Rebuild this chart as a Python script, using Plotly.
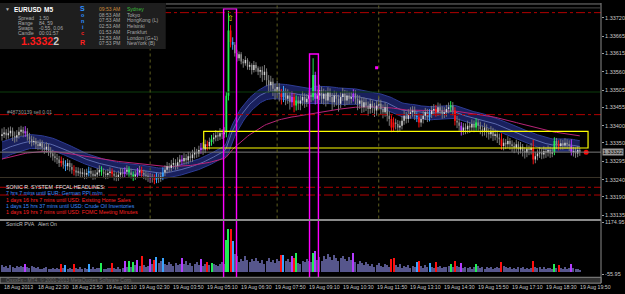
import plotly.graph_objects as go

# ---------------- DATA (prices in points above 1.33000, i.e. 322 -> 1.33322) ----------------
open_first = 370
close_pts = [375, 380, 372, 378, 385, 370, 365, 372, 382, 388, 378, 384, 368,
             360, 352, 355, 345, 340, 348, 335, 330, 338, 325,
             318, 310, 305, 300, 290, 296, 285, 280, 290, 278, 270,
             268, 262, 265, 258, 262, 255, 260, 266, 258, 252, 256, 262, 270, 264, 258, 254, 260, 265, 258, 252,
             248, 255, 262, 258, 264, 270, 262, 255, 250, 256, 262, 268, 260, 255, 252, 248, 245,
             245, 240, 248, 244, 250, 262,
             270, 280, 275, 285, 290, 282, 292, 300, 295, 305,
             298, 310, 305, 315, 322, 318, 328,
             335, 330, 345, 340, 352, 360,
             365, 372, 368, 378, 375, 380,
             489, 682, 648, 640,
             615, 600, 612, 590, 585, 595, 575, 580, 565, 580, 570, 560,
             565, 550, 560, 535, 520, 530, 510, 500, 515, 495, 485, 500, 480, 490, 470, 485, 460, 475, 465,
             475, 485, 470, 480, 490, 485,
             550, 480,
             490, 505, 480, 495, 475, 500, 485, 470, 490, 480, 465, 485, 495, 475, 490, 480, 485,
             495,
             480, 465, 475, 455, 470, 460, 450, 465, 455, 445, 460,
             465, 450, 440, 455, 430, 420, 395, 410, 405, 395, 400, 415, 430, 420, 435, 440, 445, 430, 425,
             410,
             420, 430, 440, 425, 435, 445, 450, 440, 455, 445, 435, 440, 450, 455, 460, 445,
             415,
             410, 400, 385, 395, 390, 400, 395, 405,
             395, 410,
             400, 390, 385, 395, 380, 375, 385, 370, 375, 365,
             360, 340, 350, 345, 355, 345,
             340, 335, 345, 330, 338, 325, 320, 332, 328, 335,
             300,
             310, 318, 322, 315, 325, 320, 328, 318, 322,
             355,
             345, 340, 348, 342, 350, 345, 340,
             322,
             325, 318, 328, 322]

high_pts = [392, 396, 390, 395, 398, 395, 383, 387, 396, 400, 397, 399, 393, 379, 371, 368, 364, 357, 360, 357,
            347, 351, 346, 337, 329, 322, 317, 311, 309, 304, 298, 302, 298, 289, 283, 278, 277, 274, 275, 271,
            273, 279, 276, 268, 269, 275, 283, 280, 274, 269, 272, 277, 274, 268, 263, 267, 275, 272, 277, 283,
            280, 273, 265, 268, 275, 281, 279, 270, 266, 262, 261, 258, 256, 261, 258, 263, 277, 283, 293, 290,
            299, 305, 301, 307, 314, 313, 319, 316, 323, 320, 329, 337, 332, 341, 349, 351, 359, 356, 365, 373,
            379, 387, 384, 393, 390, 396, 500, 740, 698, 662, 648, 625, 620, 618, 598, 606, 600, 590, 585, 592,
            588, 576, 575, 576, 580, 570, 550, 548, 541, 525, 533, 526, 509, 518, 511, 508, 501, 503, 496, 490,
            487, 490, 502, 496, 494, 504, 501, 600, 560, 507, 522, 516, 510, 505, 514, 511, 497, 504, 501, 492,
            500, 512, 506, 504, 501, 500, 508, 505, 492, 490, 485, 484, 481, 472, 480, 475, 468, 474, 486, 477,
            463, 469, 464, 443, 431, 425, 421, 417, 415, 429, 445, 441, 449, 455, 458, 457, 440, 437, 435, 444,
            453, 450, 449, 459, 464, 462, 469, 466, 457, 455, 462, 469, 473, 470, 455, 429, 421, 411, 408, 407,
            415, 411, 419, 416, 422, 420, 412, 401, 409, 404, 393, 399, 394, 389, 386, 377, 378, 363, 361, 369,
            364, 357, 351, 359, 354, 352, 346, 337, 345, 342, 349, 358, 323, 330, 337, 332, 339, 336, 342, 338,
            335, 366, 364, 357, 360, 358, 363, 360, 357, 360, 338, 336, 340, 335]

low_pts = [356, 364, 359, 362, 368, 355, 350, 353, 362, 369, 366, 367, 356, 346, 339, 342, 331, 328, 329, 324,
           317, 320, 311, 306, 297, 292, 287, 278, 279, 273, 266, 269, 265, 258, 253, 250, 251, 246, 247, 242,
           243, 250, 245, 240, 241, 246, 251, 252, 245, 242, 243, 249, 246, 238, 236, 237, 244, 245, 248, 253,
           249, 244, 237, 240, 245, 252, 247, 242, 239, 234, 231, 232, 227, 230, 231, 234, 239, 251, 259, 262,
           265, 273, 270, 271, 281, 284, 285, 286, 287, 292, 293, 303, 305, 308, 317, 314, 319, 327, 330, 341,
           347, 354, 355, 358, 361, 364, 366, 475, 632, 625, 605, 590, 592, 582, 572, 578, 566, 565, 552, 558,
           560, 550, 542, 530, 535, 517, 498, 502, 488, 477, 483, 472, 463, 470, 461, 465, 448, 455, 440, 445,
           447, 446, 460, 453, 456, 466, 470, 475, 463, 466, 476, 465, 463, 457, 464, 470, 447, 456, 460, 442,
           452, 473, 458, 462, 464, 466, 472, 464, 446, 450, 438, 440, 444, 430, 436, 438, 426, 430, 448, 433,
           422, 427, 413, 400, 381, 383, 389, 381, 383, 389, 403, 407, 409, 421, 427, 417, 411, 395, 397, 407,
           417, 411, 413, 423, 431, 427, 429, 431, 421, 423, 427, 437, 441, 431, 401, 393, 385, 371, 373, 375,
           377, 379, 383, 381, 385, 385, 375, 369, 371, 365, 359, 363, 355, 357, 349, 343, 329, 327, 331, 333,
           329, 323, 319, 323, 315, 318, 309, 303, 307, 313, 315, 286, 289, 298, 305, 301, 303, 305, 309, 305,
           307, 313, 331, 327, 329, 329, 331, 331, 325, 312, 309, 305, 307, 311]

volume = [150, 110, 130, 90, 160, 120, 80, 140, 100, 130, 110,
          190,
          120, 90, 140, 100, 80, 120, 70, 60, 90, 110, 70, 60, 80, 50, 90, 70,
          180, 80, 160, 60, 90, 70,
          170, 80, 60, 100, 70, 90, 60,
          190, 70, 100, 60, 80, 90,
          200, 70, 60, 90, 80,
          210, 80, 60, 100, 70, 90,
          240, 100, 260, 120, 230, 150, 270, 140, 360, 160, 120, 140,
          300, 180, 280, 350, 200, 260, 330,
          180, 150, 220, 170, 140, 200, 160, 190,
          310, 170, 240, 150, 200, 130, 180, 220, 160,
          290, 140, 190, 220, 160, 200,
          170, 150, 140, 190, 230, 180,
          760, 1010, 1000, 720,
          420, 360, 230, 300, 260, 370, 280, 220, 300, 250, 330, 240, 200, 280, 190, 250, 310, 230, 270, 210, 290, 260,
          390, 400, 250, 300, 220, 370, 330, 430,
          210, 180, 260, 230, 300, 250, 220,
          430, 490,
          280, 340, 260, 380, 300, 420, 350, 270, 400, 330, 250, 310, 380, 290, 240, 350, 280,
          450,
          220, 180, 260, 200, 150, 230, 170, 140, 190, 120, 160, 210, 130, 100, 180, 150, 120,
          290, 320,
          160, 120, 180, 90, 140, 110, 150, 80, 130, 100,
          220, 240,
          130, 90, 150, 110,
          200, 120, 90, 230,
          110, 140, 80, 120, 100,
          130, 190, 110, 240, 130, 100, 200,
          90, 120, 80, 110, 70, 100,
          180,
          140, 90, 110, 70, 100, 80, 120, 60, 90, 110, 80,
          230,
          130, 100, 80, 110, 70, 90, 60, 100, 80, 120, 70, 90, 60, 80,
          250,
          120, 90, 110, 70, 100, 60, 80, 90, 70,
          180, 90, 160,
          80, 70, 100, 60, 90,
          170,
          80, 60, 70, 40]

# PVA colouring (bar indices)
pva_purple = [11, 58, 64, 70, 85, 94, 137, 148, 166, 217, 269]
pva_red = [28, 34, 52, 66, 72, 97, 108, 132, 138, 184, 185, 197, 205, 214, 236, 251, 263]
pva_green = [47, 60, 62, 99, 106, 107, 139, 147, 212, 224, 261]
pva_blue = [30, 41, 73, 76, 109, 133, 196, 202]

# EMA seeds read at the left edge (points)
ema_high_seed, ema_low_seed, ema_close_seed, ema89_seed = 350, 298, 324, 300

# price levels / labels
price_ticks = ["1.33720", "1.33665", "1.33615", "1.33560", "1.33505", "1.33455", "1.33400",
               "1.33350", "1.33295", "1.33240", "1.33190", "1.33135"]
bid = 1.33322
order_levels = [1.33735, 1.33433, 1.33218, 1.33195]
round_level = 1.33500
ask_level = 1.33247
vol_range = [-55.95, 1174.95]

time_labels = ["18 Aug 2013", "18 Aug 22:30", "18 Aug 23:50", "19 Aug 01:10", "19 Aug 02:30",
               "19 Aug 03:50", "19 Aug 05:10", "19 Aug 06:30", "19 Aug 07:50", "19 Aug 09:10",
               "19 Aug 10:30", "19 Aug 11:50", "19 Aug 13:10", "19 Aug 14:30", "19 Aug 15:50",
               "19 Aug 17:10", "19 Aug 18:30", "19 Aug 19:50"]
time_label_bars = [0, 16, 32, 48, 64, 80, 96, 112, 128, 144, 160, 176, 192, 208, 224, 240, 256, 272]
session_bars = [70, 130, 178]

headlines = [("SONIC R. SYSTEM  FFCAL HEADLINES:", "#e8e8e8"),
             ("7 hrs 7 mins until EUR: German PPI m/m", "#3b8cff"),
             ("1 days 16 hrs 7 mins until USD: Existing Home Sales", "#ff2020"),
             ("1 days 15 hrs 37 mins until USD: Crude Oil Inventories", "#3b8cff"),
             ("1 days 19 hrs 7 mins until USD: FOMC Meeting Minutes", "#ff2020")]
clock_times = ["09:53 AM", "08:53 AM", "07:53 AM", "02:53 AM", "01:53 AM", "12:53 AM", "07:53 PM"]
clock_cities = ["Sydney", "Tokyo", "HongKong (L)", "Helsinki", "Frankfurt", "London (G+1)", "NewYork (B)"]
info_rows = [("Spread", "1.50"), ("Range", "84, 59"), ("Swaps", "-0.55, 0.06"), ("Candle", "00:01:57")]

# ---------------- BUILD ----------------
N = len(close_pts)
lens = [len(close_pts), len(high_pts), len(low_pts), len(volume)]
if len(set(lens)) != 1:
    raise SystemExit("length mismatch %s" % lens)

P = lambda v: 1.33 + v / 1e5
open_pts = [open_first] + close_pts[:-1]
o = [P(v) for v in open_pts]
c = [P(v) for v in close_pts]
h = [P(v) for v in high_pts]
l = [P(v) for v in low_pts]


def ema(vals, seed, n):
    a = 2.0 / (n + 1)
    e = seed
    out = []
    for v in vals:
        e = e + a * (v - e)
        out.append(P(e))
    return out


ema_h = ema(high_pts, ema_high_seed, 34)
ema_l = ema(low_pts, ema_low_seed, 34)
ema_c = ema(close_pts, ema_close_seed, 34)
ema89 = ema(close_pts, ema89_seed, 89)

colour_of = ["n"] * N
for lst, k in ((pva_purple, "p"), (pva_red, "r"), (pva_green, "g"), (pva_blue, "b")):
    for i in lst:
        if i < N:
            colour_of[i] = k
pal = {"p": "#b43cff", "r": "#ff1010", "g": "#22ee55", "b": "#3aa4ff"}
vol_pal = dict(pal, n="#56568c")

PLOT_R, PLOT_B = 602, 294
fx = lambda px: px / PLOT_R
fy = lambda py: 1 - py / PLOT_B
MPP = 0.000029  # price per pixel on main window
main_top_px, main_bot_px = 2, 220
p_top = 1.33720 + (15 - main_top_px) * MPP
p_bot = 1.33720 - (main_bot_px - 15) * MPP
BAR_PX = 2.12
x_lo = -2 / BAR_PX
x_hi = (PLOT_R - 2) / BAR_PX

fig = go.Figure()

# dragon band
fig.add_trace(go.Scatter(x=list(range(N)), y=ema_l, mode="lines",
                         line=dict(color="#2e3c94", width=1), hoverinfo="skip"))
fig.add_trace(go.Scatter(x=list(range(N)), y=ema_h, mode="lines", fill="tonexty",
                         fillcolor="rgba(26,34,98,0.95)",
                         line=dict(color="#2e3c94", width=1), hoverinfo="skip"))
fig.add_trace(go.Scatter(x=list(range(N)), y=ema_c, mode="lines",
                         line=dict(color="#6f7fc4", width=0.8), hoverinfo="skip"))
fig.add_trace(go.Scatter(x=list(range(N)), y=ema89, mode="lines",
                         line=dict(color="#b82478", width=1), hoverinfo="skip"))


def segs(idx, a, b):
    xs, ys = [], []
    for i in idx:
        xs += [i, i, None]
        ys += [a[i], b[i], None]
    return xs, ys


normal = [i for i in range(N) if colour_of[i] == "n"]
xs, ys = segs(normal, l, h)
fig.add_trace(go.Scatter(x=xs, y=ys, mode="lines", line=dict(color="#7a7a7a", width=1), hoverinfo="skip"))
bull = [i for i in normal if c[i] >= o[i]]
bear = [i for i in normal if c[i] < o[i]]
xs, ys = segs(bull, o, c)
fig.add_trace(go.Scatter(x=xs, y=ys, mode="lines", line=dict(color="#d4d4d4", width=1.4), hoverinfo="skip"))
xs, ys = segs(bear, o, c)
fig.add_trace(go.Scatter(x=xs, y=ys, mode="lines", line=dict(color="#8e8e8e", width=1.4), hoverinfo="skip"))
for k, col in pal.items():
    idx = [i for i in range(N) if colour_of[i] == k]
    xs, ys = segs(idx, l, h)
    fig.add_trace(go.Scatter(x=xs, y=ys, mode="lines", line=dict(color=col, width=1), hoverinfo="skip"))
    xs, ys = segs(idx, o, c)
    fig.add_trace(go.Scatter(x=xs, y=ys, mode="lines", line=dict(color=col, width=1.8), hoverinfo="skip"))

# volume
fig.add_trace(go.Bar(x=list(range(N)), y=volume, yaxis="y2",
                     marker=dict(color=[vol_pal[k] for k in colour_of], line=dict(width=0)),
                     width=0.5, hoverinfo="skip"))

# markers
fig.add_trace(go.Scatter(x=[276], y=[bid], mode="markers",
                         marker=dict(color="#ff0000", size=5), hoverinfo="skip"))
fig.add_trace(go.Scatter(x=[177], y=[1.33572], mode="markers",
                         marker=dict(color="#ff00ff", size=3, symbol="square"), hoverinfo="skip"))

shapes = []
for lv in order_levels:
    shapes.append(dict(type="line", xref="paper", yref="y", x0=0, x1=1, y0=lv, y1=lv,
                       line=dict(color="#b00000", width=1, dash="dashdot")))
shapes.append(dict(type="line", xref="paper", yref="y", x0=0, x1=1, y0=round_level, y1=round_level,
                   line=dict(color="#0c3d0c", width=1)))
shapes.append(dict(type="line", xref="paper", yref="y", x0=0, x1=1, y0=bid, y1=bid,
                   line=dict(color="#7c7c7c", width=1)))
shapes.append(dict(type="line", xref="paper", yref="y", x0=0, x1=1, y0=ask_level, y1=ask_level,
                   line=dict(color="#3a3428", width=1)))
for b in session_bars:
    shapes.append(dict(type="line", xref="x", yref="paper", x0=b, x1=b, y0=fy(main_bot_px), y1=fy(main_top_px),
                       line=dict(color="#5e5e1e", width=1, dash="dot")))
shapes.append(dict(type="rect", xref="x", yref="y", x0=95.3, x1=276.9, y0=1.333343, y1=1.333836,
                   line=dict(color="#ffff00", width=1.2)))
for (a, b, top) in [(104.7, 110.8, 6), (145.3, 149.5, 52)]:
    shapes.append(dict(type="rect", xref="x", yref="paper", x0=a, x1=b, y0=fy(284), y1=fy(top),
                       line=dict(color="#ff00ff", width=1.4)))
shapes += [
    dict(type="line", xref="paper", yref="paper", x0=1, x1=1, y0=fy(286), y1=1, line=dict(color="#8a8a8a", width=1)),
    dict(type="line", xref="paper", yref="paper", x0=fx(166), x1=1, y0=fy(1), y1=fy(1), line=dict(color="#7a7a7a", width=1)),
    dict(type="line", xref="paper", yref="paper", x0=fx(166), x1=1, y0=fy(5), y1=fy(5), line=dict(color="#4a4a4a", width=1)),
    dict(type="line", xref="paper", yref="paper", x0=0, x1=1, y0=fy(221.5), y1=fy(221.5), line=dict(color="#8a8a8a", width=2)),
    dict(type="rect", xref="paper", yref="paper", x0=0, x1=1, y0=fy(286), y1=fy(280),
         fillcolor="#303030", line=dict(color="#8a8a8a", width=1)),
    dict(type="rect", xref="paper", yref="paper", x0=0, x1=fx(166), y0=fy(47), y1=1,
         fillcolor="#1e1e1e", line=dict(width=0)),
]

ann = []
F = "Liberation Sans, Arial, sans-serif"


def text(px, py, s, col, size=5.5, anchor="left", bold=False, bg=None):
    d = dict(x=fx(px), y=fy(py), xref="paper", yref="paper", text=("<b>%s</b>" % s) if bold else s,
             showarrow=False, xanchor=anchor, yanchor="middle",
             font=dict(family=F, size=size, color=col))
    if bg:
        d["bgcolor"] = bg
    ann.append(d)


for b, s in zip(time_label_bars, time_labels):
    ann.append(dict(x=b, y=fy(290), xref="x", yref="paper", text=s, showarrow=False, xanchor="left",
                    yanchor="middle", font=dict(family=F, size=5.2, color="#c8c8c8")))
text(4, 283, "OsxxFx - MT4, © 2001-2013 MetaQuotes Software Corp.", "#6a6a6a", 5)
for k, (s, col) in enumerate(headlines):
    text(4, 188 + 6.3 * k, s, col, 5.3)
text(5, 111, "#48730139 sell 0.01", "#9a9a9a", 5)
text(4, 226, "SonicR PVA   Alert On", "#c0c0c0", 5.2)
text(3, 6, "▼", "#b0b0b0", 5)
text(12, 7, "EURUSD", "#ffffff", 6.5, bold=True)
text(42, 7, "M5", "#ffffff", 6.5, bold=True)
for k, (a, b) in enumerate(info_rows):
    yy = [15, 20, 25.5, 31][k]
    text(16, yy, a, "#a8a8a8", 5)
    text(37, yy, b, "#a8a8a8", 5)
ann.append(dict(x=fx(19), y=fy(39), xref="paper", yref="paper", showarrow=False, xanchor="left", yanchor="middle",
                text="<b><span style='color:#ff1a1a'>1.3332</span><span style='color:#c8c8c8'>2</span></b>",
                font=dict(family=F, size=10.5)))
for k, (ch, col, yy) in enumerate([("S", "#2e8fff", 6), ("o", "#2e8fff", 12), ("n", "#2e8fff", 18),
                                   ("i", "#2e8fff", 24), ("c", "#ff2020", 31), ("R", "#ff2020", 40)]):
    text(83, yy, ch, col, 7 if ch in "SR" else 5.5, anchor="center", bold=True)
for k in range(7):
    yy = 6 + 5.85 * k
    text(97, yy, clock_times[k], "#d08a3a" if k == 0 else "#a8a8a8", 5)
    text(125, yy, clock_cities[k], "#3cc03c" if k == 0 else "#a8a8a8", 5)
ann.append(dict(x=108, y=1.33718, xref="x", yref="y", text="⇧", showarrow=False,
                font=dict(family="DejaVu Sans", size=8, color="#e0e000")))
ann.append(dict(x=fx(603), y=bid, xref="paper", yref="y", text="1.33322", showarrow=False, xanchor="left",
                yanchor="middle", bgcolor="#9a9a9a", borderpad=0,
                font=dict(family=F, size=5.5, color="#000000")))

fig.update_layout(
    width=625, height=294, margin=dict(l=0, r=23, t=0, b=0),
    paper_bgcolor="#000000", plot_bgcolor="#000000", showlegend=False,
    bargap=0, shapes=shapes, annotations=ann,
    xaxis=dict(range=[x_lo, x_hi], showgrid=False, zeroline=False, showticklabels=False,
               ticks="", showline=False, anchor="y"),
    yaxis=dict(domain=[fy(main_bot_px), fy(main_top_px)], range=[p_bot, p_top], side="right",
               tickvals=[float(t) for t in price_ticks], ticktext=price_ticks,
               ticks="outside", ticklen=2, tickcolor="#a0a0a0", showgrid=False, zeroline=False,
               tickfont=dict(family=F, size=5.5, color="#c8c8c8"), showline=False),
    yaxis2=dict(domain=[fy(277), fy(224)], range=vol_range, side="right", anchor="x",
                tickvals=vol_range, ticktext=["-55.95", "1174.95"],
                ticks="outside", ticklen=2, tickcolor="#a0a0a0", showgrid=False, zeroline=False,
                tickfont=dict(family=F, size=5.5, color="#c8c8c8"), showline=False),
)

fig.write_html("out.html")
